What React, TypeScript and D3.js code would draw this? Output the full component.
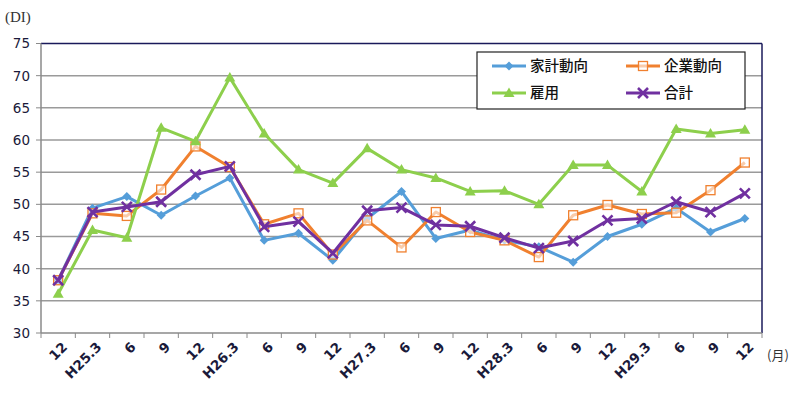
import React from 'react';
import * as d3 from 'd3';

// 調査月
const months = ['12', 'H25.3', '6', '9', '12', 'H26.3', '6', '9', '12', 'H27.3', '6', '9', '12', 'H28.3', '6', '9', '12', 'H29.3', '6', '9', '12'];

// 各DI
const kakei = [38.2, 49.4, 51.2, 48.3, 51.3, 54.1, 44.4, 45.5, 41.3, 47.8, 52.0, 44.7, 46.0, 44.4, 43.4, 41.0, 45.0, 46.9, 49.4, 45.7, 47.8];
const kigyo = [38.2, 48.6, 48.2, 52.3, 59.0, 55.8, 46.9, 48.6, 42.2, 47.5, 43.3, 48.8, 45.7, 44.4, 41.8, 48.3, 49.9, 48.5, 48.7, 52.2, 56.5];
const koyo = [36.1, 46.0, 44.8, 61.9, 59.8, 69.7, 61.0, 55.4, 53.3, 58.7, 55.4, 54.1, 52.0, 52.1, 50.0, 56.1, 56.1, 52.0, 61.7, 61.0, 61.6];
const gokei = [38.2, 48.8, 49.6, 50.4, 54.6, 55.9, 46.5, 47.3, 42.4, 49.0, 49.5, 46.8, 46.6, 44.8, 43.2, 44.3, 47.5, 47.8, 50.4, 48.8, 51.7];

const yTicks = [30, 35, 40, 45, 50, 55, 60, 65, 70, 75];

const series = [
  { name: '家計動向', values: kakei, color: '#559ED9', marker: 'diamond' },
  { name: '企業動向', values: kigyo, color: '#F0802F', marker: 'square' },
  { name: '雇用', values: koyo, color: '#8DCF4C', marker: 'triangle' },
  { name: '合計', values: gokei, color: '#7030A0', marker: 'cross' },
];

const W = 800, H = 397;
const left = 41, right = 762, top = 43.5, bottom = 333;

const Marker = ({ type, x, y, color }: { type: string; x: number; y: number; color: string }) => {
  if (type === 'diamond') {
    return <path d={`M${x},${y - 4.5}L${x + 4.5},${y}L${x},${y + 4.5}L${x - 4.5},${y}Z`} fill={color} />;
  }
  if (type === 'square') {
    return <rect x={x - 4.5} y={y - 4.5} width={9} height={9} fill="white" fillOpacity={0.6} stroke={color} strokeWidth={1.3} />;
  }
  if (type === 'triangle') {
    return <path d={`M${x},${y - 5.5}L${x + 5.5},${y + 4}L${x - 5.5},${y + 4}Z`} fill={color} />;
  }
  return (
    <path d={`M${x - 5},${y - 5}L${x + 5},${y + 5}M${x + 5},${y - 5}L${x - 5},${y + 5}`} stroke={color} strokeWidth={2.6} />
  );
};

export default function App() {
  const x = d3.scaleBand<number>().domain(d3.range(months.length)).range([left, right]);
  const y = d3.scaleLinear().domain([30, 75]).range([bottom, top]);
  const line = d3.line<number>().x((_, i) => x(i)! + x.bandwidth() / 2).y(d => y(d));
  const tickX = d3.range(months.length + 1).map(i => left + i * x.bandwidth());
  const labelFont = 'Tahoma, "DejaVu Sans", sans-serif';

  return (
    <svg width={W} height={H} style={{ position: 'absolute', left: 0, top: 0 }}>
      <rect width={W} height={H} fill="white" />
      <text x={5} y={22} fontFamily='"Liberation Serif", serif' fontSize={15} fill="#333">(DI)</text>
      {yTicks.map(t => (
        <g key={t}>
          {t > 30 && t < 75 && <line x1={left} x2={right} y1={y(t)} y2={y(t)} stroke="#9a9a9a" strokeWidth={1.5} />}
          <line x1={left - 5} x2={left} y1={y(t)} y2={y(t)} stroke="#8a8a8a" />
          <text x={30} y={y(t)} dy="0.36em" textAnchor="end" fontFamily={labelFont} fontSize={13.5} fill="#1a1a3a">{t}</text>
        </g>
      ))}
      <line x1={left} x2={right} y1={top} y2={top} stroke="#1a1a5a" strokeWidth={1.5} />
      <line x1={right} x2={right} y1={top} y2={bottom} stroke="#1a1a5a" strokeWidth={1.5} />
      <line x1={left} x2={left} y1={top} y2={bottom} stroke="#8a8a8a" strokeWidth={1.5} />
      <line x1={left} x2={right} y1={bottom} y2={bottom} stroke="#8a8a8a" strokeWidth={1.5} />
      {tickX.map((tx, i) => (
        <line key={i} x1={tx} x2={tx} y1={bottom} y2={bottom + 5} stroke="#8a8a8a" />
      ))}
      {months.map((m, i) => {
        const cx = x(i)! + x.bandwidth() / 2 + 3;
        const cy = bottom + 8;
        return (
          <text key={i} x={cx} y={cy} transform={`rotate(-45 ${cx} ${cy})`} textAnchor="end" dy="0.72em"
            fontFamily={labelFont} fontSize={13.5} fontWeight="bold" fill="#1a1a3a">{m}</text>
        );
      })}
      <text x={767} y={360} fontFamily='"Noto Sans CJK JP", sans-serif' fontSize={13} fill="#333">(月)</text>
      {series.map(s => (
        <g key={s.name}>
          <path d={line(s.values)!} fill="none" stroke={s.color} strokeWidth={3} strokeLinejoin="round" />
          {s.values.map((v, i) => (
            <Marker key={i} type={s.marker} x={x(i)! + x.bandwidth() / 2} y={y(v)} color={s.color} />
          ))}
        </g>
      ))}
      <rect x={477} y={52} width={268} height={57} fill="white" stroke="#222" strokeWidth={1.2} />
      {series.map((s, i) => {
        const lx = i % 2 === 0 ? 492 : 626;
        const ly = i < 2 ? 66 : 93;
        return (
          <g key={s.name}>
            <line x1={lx} x2={lx + 34} y1={ly} y2={ly} stroke={s.color} strokeWidth={3} />
            <Marker type={s.marker} x={lx + 17} y={ly} color={s.color} />
            <text x={lx + 38} y={ly} dy="0.36em" fontFamily='"Noto Sans CJK JP", sans-serif' fontSize={14.5} fontWeight={500} fill="#111">{s.name}</text>
          </g>
        );
      })}
    </svg>
  );
}
